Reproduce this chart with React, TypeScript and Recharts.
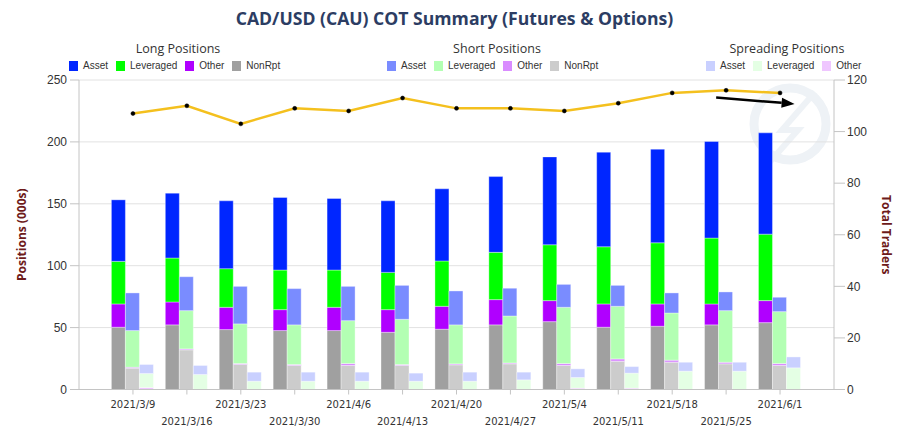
import React from "react";
import {
  ComposedChart,
  Bar,
  Line,
  XAxis,
  YAxis,
  CartesianGrid,
  ReferenceLine,
} from "recharts";

const dates = [
  "2021/3/9", "2021/3/16", "2021/3/23", "2021/3/30", "2021/4/6", "2021/4/13", "2021/4/20",
  "2021/4/27", "2021/5/4", "2021/5/11", "2021/5/18", "2021/5/25", "2021/6/1",
];

// long positions (000s), stacked bottom -> top: NonRpt, Other, Leveraged, Asset
const longNonRpt = [50.3, 52.2, 48.4, 47.6, 47.6, 46.2, 48.7, 52.2, 54.8, 50.3, 51.1, 52.2, 54.0];
const longOther = [18.8, 18.5, 18.0, 16.9, 18.8, 18.3, 18.5, 20.4, 17.0, 18.8, 18.0, 16.9, 17.8];
const longLeveraged = [34.4, 35.5, 31.2, 32.0, 30.1, 30.1, 36.6, 38.2, 45.1, 46.2, 49.4, 53.2, 53.7];
const longAsset = [49.7, 52.4, 54.8, 58.6, 57.8, 57.8, 58.3, 61.2, 71.0, 76.4, 75.6, 78.0, 81.8];

const shortNonRpt = [17.2, 32.0, 20.2, 19.4, 19.4, 19.4, 19.9, 20.7, 19.4, 22.8, 22.0, 20.7, 19.4];
const shortOther = [0.8, 0.8, 0.8, 0.8, 1.6, 0.8, 0.8, 0.8, 1.6, 1.9, 1.7, 1.3, 1.6];
const shortLeveraged = [29.6, 30.9, 32.0, 32.0, 34.6, 36.5, 31.5, 37.9, 45.4, 42.5, 38.1, 41.7, 41.9];
const shortAsset = [30.4, 27.4, 30.3, 29.3, 27.7, 27.4, 27.4, 22.4, 18.5, 16.9, 16.2, 15.1, 11.6];

const spreadOther = [1.6, 0, 0, 0, 0, 0, 0, 0, 1.1, 1.1, 0, 0, 0];
const spreadLeveraged = [11.3, 12.1, 6.7, 6.7, 6.7, 6.7, 6.7, 7.8, 8.6, 12.1, 14.8, 14.8, 17.5];
const spreadAsset = [7.3, 7.3, 7.3, 7.3, 7.3, 6.5, 7.3, 6.2, 7.0, 5.3, 7.2, 7.2, 8.8];

const totalTraders = [107, 110, 103, 109, 108, 113, 109, 109, 108, 111, 115, 116, 115];

const leftTicks = [0, 50, 100, 150, 200, 250];
const rightTicks = [0, 20, 40, 60, 80, 100, 120];

// trend arrow drawn over the last two weeks (right axis values)
const trendFrom = { x: "2021/5/25", y: 112.9 };
const trendTo = { x: "2021/6/1", y: 111.2 };

const data = dates.map((date, i) => ({
  date,
  longNonRpt: longNonRpt[i],
  longOther: longOther[i],
  longLeveraged: longLeveraged[i],
  longAsset: longAsset[i],
  shortNonRpt: shortNonRpt[i],
  shortOther: shortOther[i],
  shortLeveraged: shortLeveraged[i],
  shortAsset: shortAsset[i],
  spreadOther: spreadOther[i],
  spreadLeveraged: spreadLeveraged[i],
  spreadAsset: spreadAsset[i],
  traders: totalTraders[i],
}));

const C = {
  longAsset: "#0026ff",
  longLeveraged: "#00ff00",
  longOther: "#b000ff",
  longNonRpt: "#a0a0a0",
  shortAsset: "#7a8cff",
  shortLeveraged: "#b3ffb3",
  shortOther: "#d98cff",
  shortNonRpt: "#cccccc",
  spreadAsset: "#c9d0ff",
  spreadLeveraged: "#e4ffe4",
  spreadOther: "#efc6ff",
};

const legendGroups = [
  {
    title: "Long Positions",
    center: 178,
    left: 69,
    items: [
      ["Asset", C.longAsset],
      ["Leveraged", C.longLeveraged],
      ["Other", C.longOther],
      ["NonRpt", C.longNonRpt],
    ],
  },
  {
    title: "Short Positions",
    center: 497,
    left: 387,
    items: [
      ["Asset", C.shortAsset],
      ["Leveraged", C.shortLeveraged],
      ["Other", C.shortOther],
      ["NonRpt", C.shortNonRpt],
    ],
  },
  {
    title: "Spreading Positions",
    center: 787,
    left: 706,
    items: [
      ["Asset", C.spreadAsset],
      ["Leveraged", C.spreadLeveraged],
      ["Other", C.spreadOther],
    ],
  },
];

function DateTick(props: any) {
  const { x, y, payload } = props;
  const second = payload.index % 2 === 1;
  return (
    <text
      x={x}
      y={y + (second ? 28 : 11)}
      textAnchor="middle"
      fontSize={10}
      fontFamily="DejaVu Sans"
      fill="#333"
    >
      {payload.value}
    </text>
  );
}

function TrendArrow(props: any) {
  const { x1, y1, x2, y2 } = props;
  const dx = x2 - x1;
  const dy = y2 - y1;
  const sx = x1 - 0.185 * dx;
  const sy = y1 - 0.185 * dy;
  const ex = x2 + 0.27 * dx;
  const ey = y2 + 0.27 * dy;
  const len = Math.hypot(ex - sx, ey - sy);
  const ux = (ex - sx) / len;
  const uy = (ey - sy) / len;
  const hl = 13;
  const hw = 5;
  const bx = ex - ux * hl;
  const by = ey - uy * hl;
  return (
    <g>
      <line x1={sx} y1={sy} x2={bx} y2={by} stroke="#000" strokeWidth={2.5} />
      <polygon
        points={`${ex},${ey} ${bx - uy * hw},${by + ux * hw} ${bx + uy * hw},${by - ux * hw}`}
        fill="#000"
      />
    </g>
  );
}

const axisTick = { fontSize: 12, fill: "#333", fontFamily: "Liberation Sans" };

export default function App() {
  return (
    <div style={{ position: "absolute", left: 0, top: 0, width: 909, height: 432, background: "#fff" }}>
      {/* watermark */}
      <svg width={909} height={432} style={{ position: "absolute", left: 0, top: 0 }}>
        <circle cx={790} cy={124} r={36} fill="none" stroke="#eef2f6" strokeWidth={9} />
        <polyline points="815,92 782,130 798,130 768,164" fill="none" stroke="#eef2f6" strokeWidth={6} />
      </svg>
      <div
        style={{
          position: "absolute",
          top: 6,
          left: 0,
          width: 909,
          textAlign: "center",
          fontFamily: "Open Sans",
          fontWeight: 700,
          fontSize: 17.6,
          lineHeight: "24px",
          color: "#2c3d63",
        }}
      >
        CAD/USD (CAU) COT Summary (Futures &amp; Options)
      </div>
      {legendGroups.map((g) => (
        <React.Fragment key={g.title}>
          <div
            style={{
              position: "absolute",
              top: 40,
              left: g.center - 100,
              width: 200,
              textAlign: "center",
              fontFamily: "Open Sans",
              fontSize: 12.5,
              lineHeight: "18px",
              color: "#333",
            }}
          >
            {g.title}
          </div>
          <div
            style={{
              position: "absolute",
              top: 60,
              left: g.left,
              display: "flex",
              gap: 8,
              fontFamily: "Liberation Sans",
              fontSize: 10,
              lineHeight: "11px",
              color: "#333",
              whiteSpace: "nowrap",
            }}
          >
            {g.items.map(([name, color]) => (
              <div key={name} style={{ display: "flex", alignItems: "center" }}>
                <span style={{ display: "inline-block", width: 9, height: 10, background: color, marginRight: 5 }} />
                {name}
              </div>
            ))}
          </div>
        </React.Fragment>
      ))}
      <div style={{ position: "absolute", left: 0, top: 0 }}>
        <ComposedChart
          width={909}
          height={432}
          data={data}
          margin={{ top: 80, right: 25, bottom: 0, left: 22 }}
          barCategoryGap="10%"
          barGap={0}
        >
          <CartesianGrid yAxisId="left" vertical={false} stroke="#e2e2e2" />
          <XAxis
            dataKey="date"
            interval={0}
            padding={{ left: 27, right: 27 }}
            tick={<DateTick />}
            tickSize={5}
            tickMargin={2}
            axisLine={{ stroke: "#c4c4c4" }}
            tickLine={{ stroke: "#c4c4c4" }}
            height={42.5}
          />
          <YAxis
            yAxisId="left"
            domain={[0, 250]}
            ticks={leftTicks}
            width={57}
            tick={axisTick}
            tickSize={9}
            tickMargin={3}
            axisLine={{ stroke: "#c4c4c4" }}
            tickLine={{ stroke: "#c4c4c4" }}
            label={{
              value: "Positions (000s)",
              angle: -90,
              position: "insideLeft",
              offset: 0,
              style: { textAnchor: "middle", fill: "#6e1b1b", fontWeight: 700, fontSize: 12, fontFamily: "Open Sans" },
            }}
          />
          <YAxis
            yAxisId="right"
            orientation="right"
            domain={[0, 120]}
            ticks={rightTicks}
            width={50}
            tick={axisTick}
            tickSize={11}
            tickMargin={2}
            axisLine={{ stroke: "#c4c4c4" }}
            tickLine={{ stroke: "#c4c4c4" }}
            label={{
              value: "Total Traders",
              angle: 90,
              position: "insideRight",
              offset: -2,
              style: { textAnchor: "middle", fill: "#6e1b1b", fontWeight: 700, fontSize: 12, fontFamily: "Open Sans" },
            }}
          />
          <Bar yAxisId="left" dataKey="longNonRpt" stackId="long" fill={C.longNonRpt} stroke="rgba(255,255,255,0.35)" isAnimationActive={false} />
          <Bar yAxisId="left" dataKey="longOther" stackId="long" fill={C.longOther} stroke="rgba(255,255,255,0.35)" isAnimationActive={false} />
          <Bar yAxisId="left" dataKey="longLeveraged" stackId="long" fill={C.longLeveraged} stroke="rgba(255,255,255,0.35)" isAnimationActive={false} />
          <Bar yAxisId="left" dataKey="longAsset" stackId="long" fill={C.longAsset} stroke="rgba(255,255,255,0.35)" isAnimationActive={false} />
          <Bar yAxisId="left" dataKey="shortNonRpt" stackId="short" fill={C.shortNonRpt} stroke="rgba(255,255,255,0.35)" isAnimationActive={false} />
          <Bar yAxisId="left" dataKey="shortOther" stackId="short" fill={C.shortOther} stroke="rgba(255,255,255,0.35)" isAnimationActive={false} />
          <Bar yAxisId="left" dataKey="shortLeveraged" stackId="short" fill={C.shortLeveraged} stroke="rgba(255,255,255,0.35)" isAnimationActive={false} />
          <Bar yAxisId="left" dataKey="shortAsset" stackId="short" fill={C.shortAsset} stroke="rgba(255,255,255,0.35)" isAnimationActive={false} />
          <Bar yAxisId="left" dataKey="spreadOther" stackId="spread" fill={C.spreadOther} stroke="rgba(255,255,255,0.35)" isAnimationActive={false} />
          <Bar yAxisId="left" dataKey="spreadLeveraged" stackId="spread" fill={C.spreadLeveraged} stroke="rgba(255,255,255,0.35)" isAnimationActive={false} />
          <Bar yAxisId="left" dataKey="spreadAsset" stackId="spread" fill={C.spreadAsset} stroke="rgba(255,255,255,0.35)" isAnimationActive={false} />
          <Line
            yAxisId="right"
            dataKey="traders"
            type="linear"
            stroke="#f4c01e"
            strokeWidth={2.5}
            dot={{ r: 2, fill: "#000", stroke: "#000", strokeWidth: 0.5 }}
            activeDot={false}
            isAnimationActive={false}
          />
          <ReferenceLine
            yAxisId="right"
            segment={[trendFrom, trendTo]}
            ifOverflow="visible"
            shape={<TrendArrow />}
          />
        </ComposedChart>
      </div>
    </div>
  );
}
